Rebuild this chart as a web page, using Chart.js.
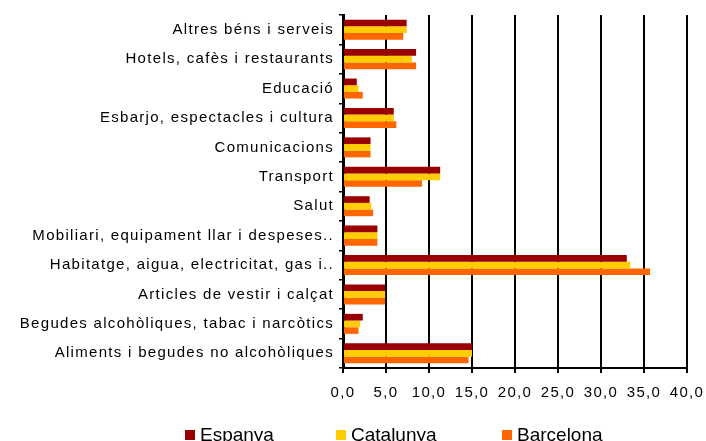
<!DOCTYPE html>
<html>
<head>
<meta charset="utf-8">
<script src="https://cdn.jsdelivr.net/npm/chart.js@4.4.1/dist/chart.umd.min.js"></script>
<style>
  html, body { margin: 0; padding: 0; background: #fff; overflow: hidden; }
  #wrap { position: relative; width: 706px; height: 441px; }
  #legend { position: absolute; left: 0; top: 0; width: 706px; height: 441px; pointer-events: none;
            font-family: "Liberation Sans", Arial, sans-serif; font-size: 19px; color: #000; }
  .item { position: absolute; top: 424px; white-space: nowrap; }
  .box { display: inline-block; width: 10px; height: 10px; margin-right: 5px; vertical-align: 1px; }
</style>
</head>
<body>
<div id="wrap">
  <canvas id="chart" width="706" height="441"></canvas>
  <div id="legend"></div>
</div>
<script>
const categories = [
  'Altres béns i serveis',
  'Hotels, cafès i restaurants',
  'Educació',
  'Esbarjo, espectacles i cultura',
  'Comunicacions',
  'Transport',
  'Salut',
  'Mobiliari, equipament llar i despeses..',
  'Habitatge, aigua, electricitat, gas i..',
  'Articles de vestir i calçat',
  'Begudes alcohòliques, tabac i narcòtics',
  'Aliments i begudes no alcohòliques'
];

const espanya   = [7.4, 8.5, 1.6, 5.9, 3.2, 11.3, 3.1, 4.0, 33.0, 4.9, 2.3, 15.0];
const catalunya = [7.4, 8.0, 1.8, 5.9, 3.2, 11.3, 3.3, 4.0, 33.4, 4.9, 2.0, 15.0];
const barcelona = [7.0, 8.5, 2.3, 6.2, 3.2, 9.2, 3.5, 4.0, 35.7, 4.9, 1.8, 14.6];

const seriesNames = ['Espanya', 'Catalunya', 'Barcelona'];
const seriesColors = ['#990000', '#FFCC00', '#FF6600'];
const xTicks = [0, 5, 10, 15, 20, 25, 30, 35, 40];

const font = "'Liberation Sans', Arial, sans-serif";

// the original labels are drawn with loose letter spacing
const spacing = {
  id: 'spacing',
  beforeDraw(chart) { chart.ctx.letterSpacing = '1.3px'; },
};

const ctx = document.getElementById('chart').getContext('2d');
const chart = new Chart(ctx, {
  type: 'bar',
  data: {
    labels: categories,
    datasets: [espanya, catalunya, barcelona].map((vals, i) => ({
      label: seriesNames[i],
      data: vals,
      backgroundColor: seriesColors[i],
      categoryPercentage: 0.68,
      barPercentage: 1.0,
    })),
  },
  plugins: [spacing],
  options: {
    indexAxis: 'y',
    responsive: false,
    animation: false,
    layout: { padding: { top: 15, right: 19, bottom: 0, left: 0 } },
    plugins: {
      legend: { display: false },
      tooltip: { enabled: false },
    },
    scales: {
      x: {
        min: 0,
        max: 40,
        afterBuildTicks: scale => { scale.ticks = xTicks.map(v => ({ value: v })); },
        afterFit: scale => {
          scale.height = 73;
          scale.paddingLeft = 0;
          scale.paddingRight = 0;
        },
        ticks: {
          color: '#000',
          padding: 11,
          font: { family: font, size: 15 },
          callback: v => v.toFixed(1).replace('.', ','),
        },
        grid: { color: '#000', lineWidth: 2, drawTicks: true, tickLength: 5 },
        border: { color: '#000', width: 2 },
      },
      y: {
        afterFit: scale => { scale.width = 343; },
        ticks: {
          color: '#000',
          padding: 5,
          font: { family: font, size: 15 },
        },
        grid: { drawOnChartArea: false, drawTicks: true, tickLength: 4, color: '#000', lineWidth: 1.5 },
        border: { color: '#000', width: 3 },
      },
    },
  },
});

// legend below the chart
const legendLeft = [185, 336, 502];
const legend = document.getElementById('legend');
seriesNames.forEach((name, i) => {
  const el = document.createElement('div');
  el.className = 'item';
  el.style.left = legendLeft[i] + 'px';
  el.innerHTML = '<span class="box" style="background:' + seriesColors[i] + '"></span>' + name;
  legend.appendChild(el);
});
</script>
</body>
</html>
